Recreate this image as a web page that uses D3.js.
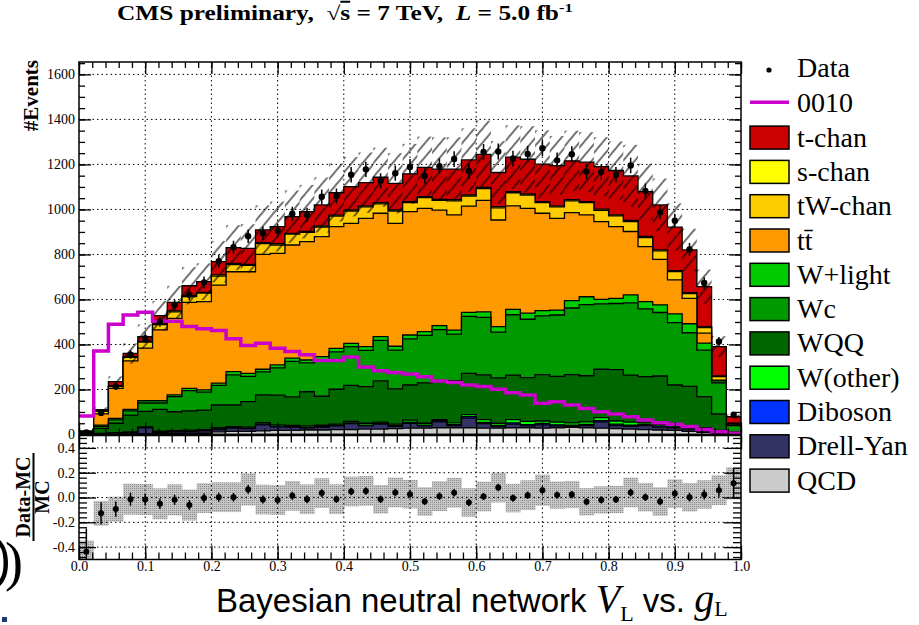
<!DOCTYPE html>
<html>
<head>
<meta charset="utf-8">
<script src="https://cdn.jsdelivr.net/npm/d3@7"></script>
<style>
  body { margin: 0; background: #fff; }
  svg { display: block; }
  text { white-space: pre; }
</style>
</head>
<body>
<svg id="chart" width="919" height="625"></svg>
<script>
// Binning of the discriminant: 45 equal bins on [0, 1]
const nBins = 45;
const xRange = [0, 1];

// Stacked background + signal-channel predictions (events per bin), bottom to top
const qcd     = [1,2,3,3,4,5,5,6,6,12,14,14,16,18,18,20,20,22,22,24,24,26,28,28,30,30,30,28,28,30,30,28,30,32,30,28,26,24,22,20,18,14,10,6,2];
const drellYan= [1,2,3,5,26,5,7,8,10,10,14,12,27,16,15,10,13,16,26,14,22,10,22,10,26,10,43,20,8,16,8,15,8,4,10,28,14,12,18,13,12,10,6,4,1];
const diboson = [0,0,0,0,1,1,1,1,1,3,3,3,4,3,3,3,3,3,4,4,4,4,5,4,5,4,6,6,4,6,6,6,5,5,5,6,6,5,5,5,4,4,4,1,0];
const wOther  = [0,1,2,3,3,4,4,4,4,5,4,5,6,6,4,5,5,5,6,8,5,6,9,8,5,8,9,12,10,14,14,11,12,11,11,13,14,14,7,7,14,10,10,7,2];
const wQQ     = [3,22,42,75,69,97,84,86,87,101,96,112,123,132,127,152,129,155,160,163,183,157,156,179,172,186,184,199,202,198,195,206,203,214,205,215,228,209,205,215,172,176,138,73,7];
const wc      = [2,9,15,19,37,28,67,90,80,87,134,112,102,121,158,128,162,166,172,161,180,172,205,211,228,208,253,255,203,268,259,261,273,296,316,290,294,321,301,282,277,238,207,139,28];
const wLight  = [1,6,7,7,10,10,8,10,10,10,14,14,12,13,14,13,14,16,15,16,17,17,17,17,18,18,18,25,24,24,27,23,22,33,35,20,23,35,32,34,39,40,31,8,2];
const ttbar   = [3,50,133,215,234,315,340,382,392,436,444,451,510,496,503,526,533,541,533,570,548,546,548,548,513,512,472,495,474,460,466,433,407,391,364,346,319,282,245,202,151,113,44,4,4];
const tWchan  = [2,11,9,16,26,23,29,26,38,40,32,29,48,37,48,41,43,46,55,51,42,55,40,47,43,62,44,52,54,58,59,47,51,52,54,50,47,44,40,38,37,21,25,15,3];
const sChan   = [0,2,3,3,4,4,4,4,3,5,5,4,4,6,4,4,5,5,5,5,5,5,5,5,5,5,5,6,5,5,5,5,5,5,5,5,5,5,5,4,4,4,4,3,1];
const tChan   = [3,5,18,14,21,36,38,44,48,59,70,71,57,76,74,88,93,100,103,103,113,118,123,130,134,136,156,147,152,153,154,166,179,173,175,189,197,198,199,200,193,190,178,130,29];

// Observed events per bin
const dataCounts = [9,96,213,355,428,501,576,621,676,770,832,881,894,906,981,976,1056,1060,1154,1178,1127,1161,1189,1149,1192,1224,1171,1255,1257,1226,1246,1272,1218,1245,1168,1167,1154,1195,1082,987,950,822,673,413,88];

// Anomalous-coupling template "0010" (unstacked line)
const signal0010 = [82,371,490,531,543,503,503,480,470,462,425,395,405,383,369,354,329,329,344,300,283,275,269,257,238,231,220,213,201,186,176,139,146,131,116,101,91,79,64,52,45,35,22,12,6];

// Relative MC uncertainty per bin (hatched band, ratio band)
const mcRelErr = [0.09,0.10,0.10,0.125,0.125,0.125,0.125,0.125,0.12,0.12,0.12,0.13,0.12,0.12,0.12,0.12,0.12,0.12,0.12,0.12,0.115,0.12,0.115,0.115,0.12,0.12,0.115,0.12,0.12,0.115,0.12,0.125,0.11,0.11,0.11,0.11,0.11,0.12,0.115,0.115,0.115,0.115,0.115,0.12,0.13];

// Axis ticks
const yTicksMain  = [0,200,400,600,800,1000,1200,1400,1600];
const yTicksRatio = [-0.4,-0.2,0,0.2,0.4];
const xTicks      = [0,0.1,0.2,0.3,0.4,0.5,0.6,0.7,0.8,0.9,1.0];

// Stack definition, bottom to top
const layers = [
  { key: 'QCD',       values: qcd,      color: '#cccccc' },
  { key: 'Drell-Yan', values: drellYan, color: '#333366' },
  { key: 'Diboson',   values: diboson,  color: '#0033ff' },
  { key: 'W(other)',  values: wOther,   color: '#00ff00' },
  { key: 'WQQ',       values: wQQ,      color: '#006600' },
  { key: 'Wc',        values: wc,       color: '#009900' },
  { key: 'W+light',   values: wLight,   color: '#00cc00' },
  { key: 'tt',        values: ttbar,    color: '#ff9900' },
  { key: 'tW-chan',   values: tWchan,   color: '#ffcc00' },
  { key: 's-chan',    values: sChan,    color: '#ffff00' },
  { key: 't-chan',    values: tChan,    color: '#cc0000' }
];

const SERIF = "'Liberation Serif','Times New Roman',serif";
const SANS  = "'Liberation Sans',Arial,sans-serif";

const svg = d3.select('#chart');
const X0 = 79, X1 = 741;
const YT = 62, YB = 434.5;   // main pad
const RT = 435.5, RB = 559.5; // ratio pad

const x  = d3.scaleLinear().domain(xRange).range([X0, X1]);
const y  = d3.scaleLinear().domain([0, 1655]).range([YB, YT]);
const yr = d3.scaleLinear().domain([-0.5, 0.5]).range([RB, RT]);

const edges = d3.range(nBins + 1).map(i => xRange[0] + (xRange[1] - xRange[0]) * i / nBins);
const centers = d3.range(nBins).map(i => (edges[i] + edges[i + 1]) / 2);

// Stack via d3.stack
const rows = d3.range(nBins).map(i => {
  const r = {};
  layers.forEach(l => r[l.key] = l.values[i]);
  return r;
});
const stacked = d3.stack().keys(layers.map(l => l.key))(rows);
const total = d3.range(nBins).map(i => stacked[stacked.length - 1][i][1]);

function stepPoints(vals) {
  const pts = [];
  vals.forEach((v, i) => { pts.push([edges[i], v]); pts.push([edges[i + 1], v]); });
  return pts;
}

// Patterns
const defs = svg.append('defs');
const hatch = defs.append('pattern').attr('id', 'hatch')
  .attr('patternUnits', 'userSpaceOnUse').attr('width', 9).attr('height', 9)
  .attr('patternTransform', 'rotate(40)');
hatch.append('line').attr('x1', 1).attr('y1', 0).attr('x2', 1).attr('y2', 9)
  .attr('stroke', '#000').attr('stroke-width', 1.1);

const stip = defs.append('pattern').attr('id', 'stipple')
  .attr('patternUnits', 'userSpaceOnUse').attr('width', 2).attr('height', 2);
stip.append('rect').attr('width', 2).attr('height', 2).attr('fill', '#c6c6c6');
stip.append('rect').attr('width', 1).attr('height', 1).attr('fill', '#8e8e8e');

defs.append('clipPath').attr('id', 'clipMain').append('rect')
  .attr('x', X0).attr('y', YT).attr('width', X1 - X0).attr('height', YB - YT);
defs.append('clipPath').attr('id', 'clipRatio').append('rect')
  .attr('x', X0).attr('y', RT).attr('width', X1 - X0).attr('height', RB - RT);

// ---------- Main pad ----------
const gridStyle = g => g.attr('stroke', '#000').attr('stroke-width', 1).attr('stroke-dasharray', '1.5,3');

const gridMain = svg.append('g').call(gridStyle);
xTicks.filter(t => t > 0 && t < 1).forEach(t =>
  gridMain.append('line').attr('x1', x(t)).attr('x2', x(t)).attr('y1', YT).attr('y2', YB));
yTicksMain.filter(t => t > 0).forEach(t =>
  gridMain.append('line').attr('x1', X0).attr('x2', X1).attr('y1', y(t)).attr('y2', y(t)));

const main = svg.append('g').attr('clip-path', 'url(#clipMain)');

const areaGen = d3.area().x(d => x(d[0])).y0(y(0)).y1(d => y(d[1]));
// cumulative histograms drawn from the top of the stack down
for (let k = stacked.length - 1; k >= 0; k--) {
  const cum = stacked[k].map(d => d[1]);
  main.append('path').datum(stepPoints(cum))
    .attr('d', areaGen)
    .attr('fill', layers[k].color)
    .attr('stroke', '#000').attr('stroke-width', 1.3).attr('stroke-linejoin', 'miter');
}

// MC uncertainty: one hatched box per bin, each with its own hatch phase
const hatchG = main.append('g');
d3.range(nBins).forEach(i => {
  const bx0 = x(edges[i]), bx1 = x(edges[i + 1]);
  const top = y(total[i] * (1 + mcRelErr[i]));
  const bot = y(total[i] * (1 - mcRelErr[i]));
  hatchG.append('g').attr('transform', `translate(${bx0},${top})`)
    .append('rect').attr('width', bx1 - bx0).attr('height', bot - top)
    .attr('fill', 'url(#hatch)');
});

// Signal template line
const lineGen = d3.line().x(d => x(d[0])).y(d => y(d[1]));
main.append('path').datum(stepPoints(signal0010))
  .attr('d', lineGen).attr('fill', 'none')
  .attr('stroke', '#cc00cc').attr('stroke-width', 3.5).attr('stroke-linejoin', 'miter');

// Data points
const dataG = main.append('g');
dataG.selectAll('line').data(d3.range(nBins)).join('line')
  .attr('x1', i => x(centers[i])).attr('x2', i => x(centers[i]))
  .attr('y1', i => y(dataCounts[i] + Math.sqrt(dataCounts[i])))
  .attr('y2', i => y(Math.max(0, dataCounts[i] - Math.sqrt(dataCounts[i]))))
  .attr('stroke', '#000').attr('stroke-width', 1.5);
dataG.selectAll('circle').data(d3.range(nBins)).join('circle')
  .attr('cx', i => x(centers[i])).attr('cy', i => y(dataCounts[i]))
  .attr('r', 3.2).attr('fill', '#000');

// ---------- Ratio pad ----------
const ratio = d3.range(nBins).map(i => dataCounts[i] / total[i] - 1);
const ratioErr = d3.range(nBins).map(i => Math.sqrt(dataCounts[i]) / total[i]);

const rp = svg.append('g').attr('clip-path', 'url(#clipRatio)');
rp.append('g').selectAll('rect').data(d3.range(nBins)).join('rect')
  .attr('x', i => x(edges[i]))
  .attr('width', i => x(edges[i + 1]) - x(edges[i]) + 0.3)
  .attr('y', i => yr(ratio[i] + mcRelErr[i]))
  .attr('height', i => yr(ratio[i] - mcRelErr[i]) - yr(ratio[i] + mcRelErr[i]))
  .attr('fill', 'url(#stipple)');

const gridRatio = svg.append('g').call(gridStyle);
xTicks.filter(t => t > 0 && t < 1).forEach(t =>
  gridRatio.append('line').attr('x1', x(t)).attr('x2', x(t)).attr('y1', RT).attr('y2', RB));
yTicksRatio.forEach(t =>
  gridRatio.append('line').attr('x1', X0).attr('x2', X1).attr('y1', yr(t)).attr('y2', yr(t)));

rp.append('g').selectAll('line').data(d3.range(nBins)).join('line')
  .attr('x1', i => x(centers[i])).attr('x2', i => x(centers[i]))
  .attr('y1', i => yr(ratio[i] + ratioErr[i])).attr('y2', i => yr(ratio[i] - ratioErr[i]))
  .attr('stroke', '#000').attr('stroke-width', 1.5);
rp.append('g').selectAll('circle').data(d3.range(nBins)).join('circle')
  .attr('cx', i => x(centers[i])).attr('cy', i => yr(ratio[i]))
  .attr('r', 3).attr('fill', '#000');

// ---------- Axes ----------
function styleAxis(g, fontSize) {
  g.select('.domain').remove();
  g.selectAll('.tick line').attr('stroke', '#000').attr('stroke-width', 1.3);
  g.selectAll('text').attr('fill', '#000').style('font-family', SERIF).style('font-size', fontSize + 'px');
}
function minorRange(lo, hi, step) {
  const n = Math.round((hi - lo) / step);
  return d3.range(n + 1).map(k => +(lo + k * step).toFixed(6));
}

const xMinor = minorRange(0, 1, 0.02);
const yMinorMain = minorRange(0, 1650, 50);
const yMinorRatio = minorRange(-0.48, 0.48, 0.04);

// main pad axes
svg.append('g').attr('transform', `translate(${X0},0)`)
  .call(d3.axisLeft(y).tickValues(yTicksMain).tickSize(-12).tickPadding(4).tickFormat(d3.format('d')))
  .call(g => styleAxis(g, 14));
svg.append('g').attr('transform', `translate(${X0},0)`)
  .call(d3.axisLeft(y).tickValues(yMinorMain).tickSize(-6).tickFormat(''))
  .call(g => styleAxis(g, 14));
svg.append('g').attr('transform', `translate(${X1},0)`)
  .call(d3.axisRight(y).tickValues(yTicksMain).tickSize(-12).tickFormat(''))
  .call(g => styleAxis(g, 14));
svg.append('g').attr('transform', `translate(${X1},0)`)
  .call(d3.axisRight(y).tickValues(yMinorMain).tickSize(-6).tickFormat(''))
  .call(g => styleAxis(g, 14));
[[YT, d3.axisTop], [YB, d3.axisBottom]].forEach(([yy, ax]) => {
  svg.append('g').attr('transform', `translate(0,${yy})`)
    .call(ax(x).tickValues(xTicks).tickSize(-12).tickFormat(''))
    .call(g => styleAxis(g, 14));
  svg.append('g').attr('transform', `translate(0,${yy})`)
    .call(ax(x).tickValues(xMinor).tickSize(-6).tickFormat(''))
    .call(g => styleAxis(g, 14));
});

// ratio pad axes
svg.append('g').attr('transform', `translate(${X0},0)`)
  .call(d3.axisLeft(yr).tickValues(yTicksRatio).tickSize(-17).tickPadding(4).tickFormat(d => d.toFixed(1)))
  .call(g => styleAxis(g, 14));
svg.append('g').attr('transform', `translate(${X0},0)`)
  .call(d3.axisLeft(yr).tickValues(yMinorRatio).tickSize(-8).tickFormat(''))
  .call(g => styleAxis(g, 14));
svg.append('g').attr('transform', `translate(${X1},0)`)
  .call(d3.axisRight(yr).tickValues(yTicksRatio).tickSize(-17).tickFormat(''))
  .call(g => styleAxis(g, 14));
svg.append('g').attr('transform', `translate(${X1},0)`)
  .call(d3.axisRight(yr).tickValues(yMinorRatio).tickSize(-8).tickFormat(''))
  .call(g => styleAxis(g, 14));
svg.append('g').attr('transform', `translate(0,${RB})`)
  .call(d3.axisBottom(x).tickValues(xTicks).tickSize(-14).tickPadding(2).tickFormat(d => d.toFixed(1)))
  .call(g => styleAxis(g, 14));
svg.append('g').attr('transform', `translate(0,${RB})`)
  .call(d3.axisBottom(x).tickValues(xMinor).tickSize(-7).tickFormat(''))
  .call(g => styleAxis(g, 14));
svg.append('g').attr('transform', `translate(0,${RT})`)
  .call(d3.axisTop(x).tickValues(xTicks).tickSize(-14).tickFormat(''))
  .call(g => styleAxis(g, 14));
svg.append('g').attr('transform', `translate(0,${RT})`)
  .call(d3.axisTop(x).tickValues(xMinor).tickSize(-7).tickFormat(''))
  .call(g => styleAxis(g, 14));

// frames
svg.append('rect').attr('x', X0).attr('y', YT).attr('width', X1 - X0).attr('height', YB - YT)
  .attr('fill', 'none').attr('stroke', '#000').attr('stroke-width', 1.5);
svg.append('rect').attr('x', X0).attr('y', RT).attr('width', X1 - X0).attr('height', RB - RT)
  .attr('fill', 'none').attr('stroke', '#000').attr('stroke-width', 1.5);

// ---------- Titles ----------
const title = svg.append('text').attr('id', 'title')
  .style('font-family', SERIF).style('font-weight', 'bold').style('font-size', '20px');
title.append('tspan').text('CMS preliminary,  \u221A');
title.append('tspan').style('text-decoration', 'overline').text('s');
title.append('tspan').text(' = 7 TeV,  ');
title.append('tspan').style('font-style', 'italic').text('L');
title.append('tspan').text(' = 5.0 fb');
title.append('tspan').attr('dy', -8).style('font-size', '13px').text('-1');
{
  const w = title.node().getComputedTextLength();
  title.attr('transform', `translate(117,20) scale(${456 / w},1)`);
}

svg.append('text')
  .attr('transform', 'translate(38,60) rotate(-90)')
  .attr('text-anchor', 'end')
  .style('font-family', SERIF).style('font-weight', 'bold').style('font-size', '21px')
  .text('#Events');

// ratio y-title as a fraction
const fr = svg.append('g').attr('transform', 'translate(0,497) rotate(-90)')
  .style('font-family', SERIF).style('font-weight', 'bold').style('font-size', '20px');
fr.append('text').attr('x', 0).attr('y', 30).attr('text-anchor', 'middle').text('Data-MC');
fr.append('line').attr('x1', -44).attr('x2', 44).attr('y1', 33.5).attr('y2', 33.5)
  .attr('stroke', '#000').attr('stroke-width', 2);
fr.append('text').attr('x', 0).attr('y', 49).attr('text-anchor', 'middle').text('MC');

// x-axis title
const xt = svg.append('text').attr('x', 216).attr('y', 612)
  .style('font-family', SANS).style('font-size', '33px');
xt.append('tspan').text('Bayesian neutral network ');
xt.append('tspan').style('font-family', SERIF).style('font-style', 'italic').style('font-size', '40px').text('V');
xt.append('tspan').attr('dy', 9).style('font-family', SERIF).style('font-size', '22px').text('L');
xt.append('tspan').attr('dy', -9).text(' vs. ');
xt.append('tspan').style('font-family', SERIF).style('font-style', 'italic').style('font-size', '40px').text('g');
xt.append('tspan').attr('dy', 4).style('font-family', SERIF).style('font-size', '22px').text('L');

// slide remnants at the left edge (edge of a large glyph, a closing parenthesis, a bullet)
svg.append('path')
  .attr('d', 'M0,540 C6,546 8,555 8,563 C8,572 6,580 0,586 L0,579 C2.5,575 3.5,570 3.5,563 C3.5,556 2.5,550 0,547 Z')
  .attr('fill', '#000');
svg.append('text').attr('x', 23).attr('y', 580).attr('text-anchor', 'end')
  .style('font-family', SERIF).style('font-size', '54px').text(')');
svg.append('rect').attr('x', 2).attr('y', 617).attr('width', 5).attr('height', 5).attr('fill', '#1f3a7a');

// ---------- Legend ----------
const leg = svg.append('g').style('font-family', SERIF).style('font-size', '28px');
const legX = 750, textX = 797, legY0 = 69, legStep = 34.3;
leg.append('circle').attr('cx', 769).attr('cy', legY0 + 1).attr('r', 2.6).attr('fill', '#000');
leg.append('text').attr('x', textX).attr('y', legY0 + 8).text('Data');
leg.append('line').attr('x1', legX).attr('x2', legX + 39).attr('y1', legY0 + legStep - 1).attr('y2', legY0 + legStep - 1)
  .attr('stroke', '#cc00cc').attr('stroke-width', 3.5);
leg.append('text').attr('x', textX).attr('y', legY0 + legStep + 9).text('0010');

const legendOrder = layers.slice().reverse();
legendOrder.forEach((l, k) => {
  const cy = legY0 + legStep * (k + 2);
  leg.append('rect').attr('x', legX).attr('y', cy - 11.5).attr('width', 39).attr('height', 23)
    .attr('fill', l.color).attr('stroke', '#000').attr('stroke-width', 1.5);
  const t = leg.append('text').attr('x', textX).attr('y', cy + 9);
  if (l.key === 'tt') { t.text('tt\u0304'); } else { t.text(l.key); }
});
</script>
</body>
</html>
